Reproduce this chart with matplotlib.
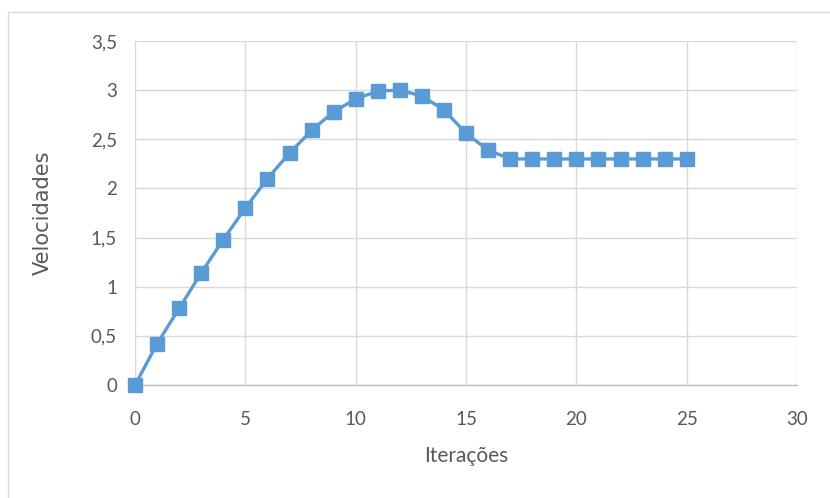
import matplotlib
matplotlib.use('Agg')
import matplotlib.pyplot as plt
from matplotlib.patches import Rectangle
from matplotlib.ticker import FuncFormatter, MultipleLocator

# Velocity per iteration
iteracoes = list(range(26))
velocidades = [0.0, 0.42, 0.78, 1.14, 1.48, 1.80, 2.10, 2.36, 2.59, 2.78,
               2.91, 2.99, 3.00, 2.94, 2.80, 2.56, 2.39, 2.30, 2.30, 2.30,
               2.30, 2.30, 2.30, 2.30, 2.30, 2.30]

LINE_COLOR = '#5B9BD5'
TEXT_COLOR = '#595959'
GRID_COLOR = '#D9D9D9'

fig = plt.figure(figsize=(8.3, 4.98), dpi=100)
ax = fig.add_axes([0.1627, 0.2269, 0.7976, 0.6908])

# outer chart-area border
fig.patches.append(Rectangle((0.01, -0.05), 1.2, 1.026, transform=fig.transFigure,
                             fill=False, edgecolor='#D9D9D9', linewidth=1.0))

ax.plot(iteracoes, velocidades, color=LINE_COLOR, linewidth=2.4,
        marker='s', markersize=9.5, markerfacecolor=LINE_COLOR,
        markeredgecolor=LINE_COLOR, clip_on=False, zorder=3)

ax.set_xlim(0, 30)
ax.set_ylim(0, 3.5)
ax.xaxis.set_major_locator(MultipleLocator(5))
ax.yaxis.set_major_locator(MultipleLocator(0.5))
ax.yaxis.set_major_formatter(FuncFormatter(lambda v, _: f'{v:g}'.replace('.', ',')))

ax.grid(True, color=GRID_COLOR, linewidth=1.0)
ax.set_axisbelow(True)
for side in ['top', 'right', 'left']:
    ax.spines[side].set_visible(False)
ax.spines['bottom'].set_color('#BFBFBF')
ax.spines['bottom'].set_linewidth(1.0)
ax.tick_params(length=0, labelsize=13.5, labelcolor=TEXT_COLOR)
ax.tick_params(axis='x', pad=19)
ax.tick_params(axis='y', pad=13)
for lbl in ax.get_xticklabels() + ax.get_yticklabels():
    lbl.set_family('Lato')

ax.set_xlabel('Iterações', fontsize=15, color=TEXT_COLOR, family='Lato', labelpad=13)
ax.set_ylabel('Velocidades', fontsize=15, color=TEXT_COLOR, family='DejaVu Sans', labelpad=27)

fig.savefig('out.png', dpi=100)
